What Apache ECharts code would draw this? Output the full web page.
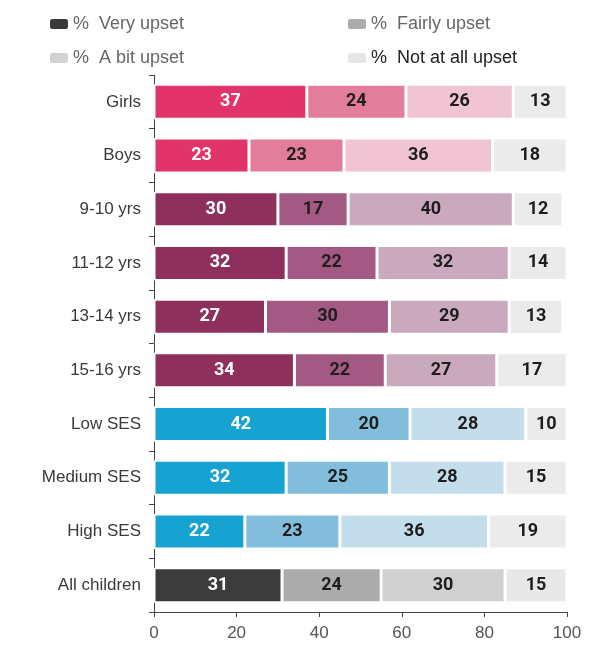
<!DOCTYPE html>
<html>
<head>
<meta charset="utf-8">
<script src="https://cdn.jsdelivr.net/npm/echarts@6/dist/echarts.min.js"></script>
<style>
  html, body { margin: 0; padding: 0; background: #fff; }
  #chart { width: 594px; height: 647px; }
</style>
</head>
<body>
<div id="chart"></div>
<script>
// categories, top to bottom
const categories = ['Girls', 'Boys', '9-10 yrs', '11-12 yrs', '13-14 yrs', '15-16 yrs', 'Low SES', 'Medium SES', 'High SES', 'All children'];
// which colour group each row belongs to
const groups = ['gender', 'gender', 'age', 'age', 'age', 'age', 'ses', 'ses', 'ses', 'all'];

const seriesNames = ['%  Very upset', '%  Fairly upset', '%  A bit upset', '%  Not at all upset'];
const veryUpset   = [37, 23, 30, 32, 27, 34, 42, 32, 22, 31];
const fairlyUpset = [24, 23, 17, 22, 30, 22, 20, 25, 23, 24];
const aBitUpset   = [26, 36, 40, 32, 29, 27, 28, 28, 36, 30];
const notAtAll    = [13, 18, 12, 14, 13, 17, 10, 15, 19, 15];
const xTicks = [0, 20, 40, 60, 80, 100];

// colour shades per group: very, fairly, a bit, not at all
const palette = {
  gender: ['#e2346a', '#e27e9c', '#f0c4d2', '#ebebeb'],
  age:    ['#8e2f5c', '#a45884', '#c9a9bb', '#ebebeb'],
  ses:    ['#16a3d2', '#82bedc', '#c3ddeb', '#ebebeb'],
  all:    ['#3c3c3c', '#acacac', '#d0d0d0', '#e8e8e8']
};
const legendColors = ['#3a3a3a', '#ababab', '#d2d2d2', '#e6e6e6'];

const values = [veryUpset, fairlyUpset, aBitUpset, notAtAll];

const chart = echarts.init(document.getElementById('chart'), null, { renderer: 'canvas' });

const series = values.map((arr, s) => ({
  name: seriesNames[s],
  type: 'bar',
  stack: 'total',
  barWidth: 35,
  color: legendColors[s],
  label: {
    show: true,
    position: 'inside',
    color: s === 0 ? '#ffffff' : '#1e1e1e',
    fontFamily: 'Roboto',
    fontWeight: 'bold',
    fontSize: 18
  },
  data: arr.map((v, i) => ({
    value: v,
    itemStyle: {
      color: palette[groups[i]][s],
      borderColor: '#ffffff',
      borderWidth: 1.5
    }
  }))
}));

const legendPos = [
  { left: 45, top: 10 },
  { left: 343, top: 10 },
  { left: 45, top: 44 },
  { left: 343, top: 44 }
];

chart.setOption({
  backgroundColor: '#ffffff',
  animation: false,
  legend: seriesNames.map((n, i) => ({
    data: [n],
    left: legendPos[i].left,
    top: legendPos[i].top,
    itemWidth: 18,
    itemHeight: 10,
    itemGap: 8,
    textStyle: {
      fontFamily: 'Liberation Sans',
      fontSize: 18,
      color: i === 3 ? '#222' : '#666'
    }
  })),
  grid: { left: 154, right: 27, top: 75, bottom: 35 },
  xAxis: {
    type: 'value',
    min: 0,
    max: 100,
    interval: 20,
    splitLine: { show: false },
    axisLine: { show: true, lineStyle: { color: '#444' } },
    axisTick: { show: true, length: 5, lineStyle: { color: '#444' } },
    axisLabel: {
      margin: 13,
      fontFamily: 'Liberation Sans',
      fontSize: 17,
      color: '#555',
      formatter: v => xTicks.includes(v) ? String(v) : ''
    }
  },
  yAxis: {
    type: 'category',
    inverse: true,
    data: categories,
    axisLine: { show: true, lineStyle: { color: '#444' } },
    axisTick: { show: true, length: 5, lineStyle: { color: '#444' } },
    axisLabel: {
      margin: 13,
      fontFamily: 'Liberation Sans',
      fontSize: 17,
      color: '#3a3a3a'
    }
  },
  series: series
});
</script>
</body>
</html>
